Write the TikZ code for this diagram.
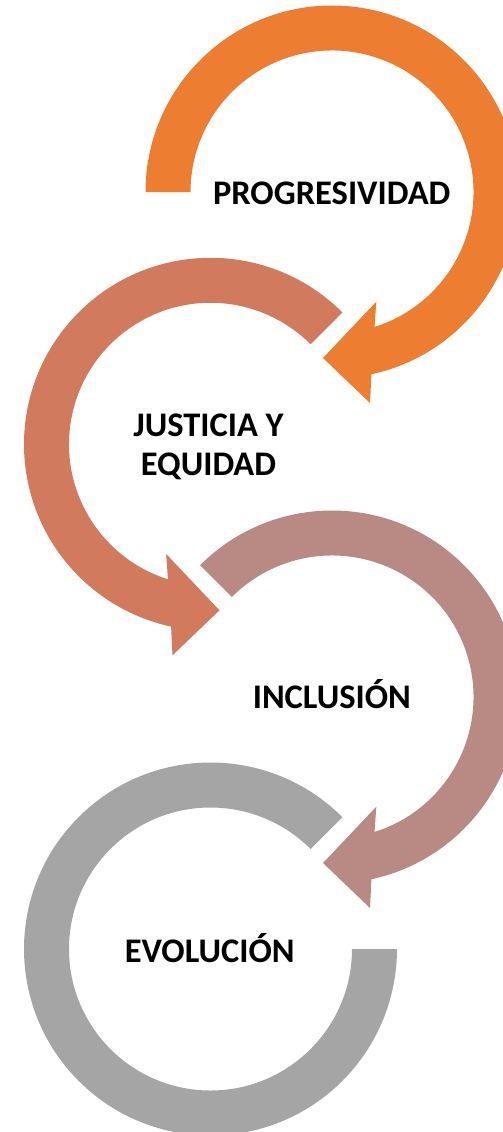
\documentclass[tikz,border=0pt]{standalone}
\usepackage{fontspec}
\setmainfont{Carlito}
\usetikzlibrary{calc}
\definecolor{cOrange}{HTML}{ED7D31}
\definecolor{cTerra}{HTML}{D27A5D}
\definecolor{cRose}{HTML}{B98A83}
\definecolor{cGray}{HTML}{A5A5A5}
\tikzset{
  lbl/.style={inner sep=0pt, anchor=base, align=center,
    font=\fontsize{34.5}{38.5}\selectfont\bfseries, text=black},
}
\begin{document}
\begin{tikzpicture}[x=1pt,y=1pt]
\useasboundingbox (0,0) rectangle (503,-1132);
\coordinate (c1) at (332,-192);
\coordinate (c2) at (210.5,-444.3);
\coordinate (c3) at (332,-697);
\coordinate (c4) at (210.5,-949);
% arrow 1 (clockwise, start at left)
\fill[cOrange] ($(c1)+(180:186.5)$) arc[start angle=180, end angle=-77.8, radius=186.5pt]
  -- ($(c1)+(38,-211)$) -- ($(c1)+(-9,-166)$) -- ($(c1)+(44.3,-109.7)$)
  -- ($(c1)+(-72.5:141.5)$) arc[start angle=-72.5, end angle=180, radius=141.5pt] -- cycle;
% arrow 2 (counter-clockwise, start upper right)
\fill[cTerra] ($(c2)+(45:186.5)$) arc[start angle=45, end angle=257.8, radius=186.5pt]
  -- ($(c2)+(-38,-211)$) -- ($(c2)+(9,-166)$) -- ($(c2)+(-44.3,-109.7)$)
  -- ($(c2)+(252.5:141.5)$) arc[start angle=252.5, end angle=45, radius=141.5pt] -- cycle;
% arrow 3 (clockwise, start upper left)
\fill[cRose] ($(c3)+(135:186.5)$) arc[start angle=135, end angle=-77.8, radius=186.5pt]
  -- ($(c3)+(38,-211)$) -- ($(c3)+(-9,-166)$) -- ($(c3)+(44.3,-109.7)$)
  -- ($(c3)+(-72.5:141.5)$) arc[start angle=-72.5, end angle=135, radius=141.5pt] -- cycle;
% ring 4 (no arrowhead)
\fill[cGray] ($(c4)+(45:186.5)$) arc[start angle=45, end angle=360, radius=186.5pt]
  -- ($(c4)+(0:141.5)$) arc[start angle=360, end angle=45, radius=141.5pt] -- cycle;
% labels
\node[lbl] (t1) at (331.7,-204) {PROGRESIVIDAD};
\node[lbl] (t2) at (208.5,-475.2) {JUSTICIA Y\\EQUIDAD};
\node[lbl] (t3) at (331.8,-708.6) {INCLUSIÓN};
\node[lbl] (t4) at (209.7,-962) {EVOLUCIÓN};
\end{tikzpicture}
\end{document}
